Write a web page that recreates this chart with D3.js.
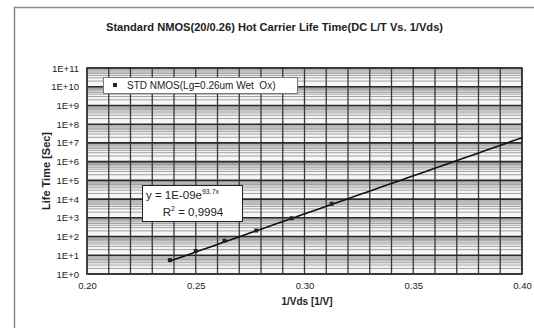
<!DOCTYPE html>
<html>
<head>
<meta charset="utf-8">
<script src="https://cdn.jsdelivr.net/npm/d3@7/dist/d3.min.js"></script>
<style>
  html, body { margin: 0; padding: 0; background: #fff; }
  svg { display: block; }
  text { font-family: "Liberation Sans", Arial, sans-serif; fill: #222; white-space: pre; }
</style>
</head>
<body>
<svg id="chart" width="534" height="328"></svg>
<script>
// Measured hot-carrier lifetime vs. inverse drain voltage
const invVds   = [0.2381, 0.2500, 0.2632, 0.2778, 0.2941, 0.3125];
const lifeTime = [5.5, 17, 60, 210, 950, 5600];

// Exponential trendline y = A * e^(k x)
const fitA = 1e-9;
const fitK = 93.7;
const fitRange = [0.2381, 0.40];
const fitR2Label = "0,9994";

const xTickValues = [0.20, 0.25, 0.30, 0.35, 0.40];
const xTickLabels = ["0.20", "0.25", "0.30", "0.35", "0.40"];
const yTickValues = [1e0, 1e1, 1e2, 1e3, 1e4, 1e5, 1e6, 1e7, 1e8, 1e9, 1e10, 1e11];
const yTickLabels = ["1E+0", "1E+1", "1E+2", "1E+3", "1E+4", "1E+5", "1E+6", "1E+7", "1E+8", "1E+9", "1E+10", "1E+11"];

const titleText = "Standard NMOS(20/0.26) Hot Carrier Life Time(DC L/T Vs. 1/Vds)";
const seriesName = "STD NMOS(Lg=0.26um Wet\u00A0 Ox)";

const svg = d3.select("#chart");
const plot = { left: 87, right: 522, top: 68, bottom: 274 };

const x = d3.scaleLinear().domain([0.20, 0.40]).range([plot.left, plot.right]);
const y = d3.scaleLog().domain([1, 1e11]).range([plot.bottom, plot.top]);

// outer chart frame
svg.append("path")
  .attr("d", `M14.5,328 V7.5 H534`)
  .attr("fill", "none").attr("stroke", "#8a8a8a").attr("stroke-width", 1.5);

// title
svg.append("text")
  .attr("x", 274.5).attr("y", 31)
  .attr("text-anchor", "middle")
  .attr("font-size", 10).attr("font-weight", "bold")
  .attr("textLength", 337).attr("lengthAdjust", "spacingAndGlyphs")
  .text(titleText);

// plot background
svg.append("rect")
  .attr("x", plot.left).attr("y", plot.top)
  .attr("width", plot.right - plot.left).attr("height", plot.bottom - plot.top)
  .attr("fill", "#f6f6f6");

const grid = svg.append("g");

// minor horizontal grid (2..9 in each decade)
const minorY = [];
for (let n = 0; n < 11; n++) for (let m = 2; m <= 9; m++) minorY.push(m * Math.pow(10, n));
grid.selectAll("line.minorY").data(minorY).join("line")
  .attr("class", "minorY")
  .attr("x1", plot.left).attr("x2", plot.right)
  .attr("y1", d => y(d)).attr("y2", d => y(d))
  .attr("stroke", "#a0a0a0").attr("stroke-width", 1);

// vertical grid every 0.01
const vLines = d3.range(0, 21).map(i => 0.20 + i * 0.01);
grid.selectAll("line.v").data(vLines).join("line")
  .attr("class", "v")
  .attr("x1", d => x(d)).attr("x2", d => x(d))
  .attr("y1", plot.top).attr("y2", plot.bottom)
  .attr("stroke", "#3a3a3a").attr("stroke-width", 1.3);

// major horizontal grid (decades)
grid.selectAll("line.majorY").data(yTickValues).join("line")
  .attr("class", "majorY")
  .attr("x1", plot.left).attr("x2", plot.right)
  .attr("y1", d => y(d)).attr("y2", d => y(d))
  .attr("stroke", "#2a2a2a").attr("stroke-width", 1.6);

// plot border
svg.append("rect")
  .attr("x", plot.left).attr("y", plot.top)
  .attr("width", plot.right - plot.left).attr("height", plot.bottom - plot.top)
  .attr("fill", "none").attr("stroke", "#333").attr("stroke-width", 1.6);

// axes
const yAxis = svg.append("g")
  .attr("transform", `translate(${plot.left - 8},0)`)
  .call(d3.axisLeft(y).tickValues(yTickValues)
    .tickFormat((d, i) => yTickLabels[i]).tickSize(0).tickPadding(0));
yAxis.select(".domain").remove();
yAxis.selectAll("text").attr("font-size", 9.5).attr("fill", "#333")
  .style("font-family", '"Liberation Sans", Arial, sans-serif');

const xAxis = svg.append("g")
  .attr("transform", `translate(0,${plot.bottom + 8})`)
  .call(d3.axisBottom(x).tickValues(xTickValues)
    .tickFormat((d, i) => xTickLabels[i]).tickSize(0).tickPadding(0));
xAxis.select(".domain").remove();
xAxis.selectAll("text").attr("font-size", 9.5).attr("fill", "#333")
  .style("font-family", '"Liberation Sans", Arial, sans-serif');

// axis titles
svg.append("text")
  .attr("x", 307).attr("y", 305)
  .attr("text-anchor", "middle")
  .attr("font-size", 10).attr("font-weight", "bold")
  .text("1/Vds [1/V]");

svg.append("text")
  .attr("transform", `translate(50,${(plot.top + plot.bottom) / 2}) rotate(-90)`)
  .attr("text-anchor", "middle")
  .attr("font-size", 11).attr("font-weight", "bold")
  .text("Life Time [Sec]");

// trendline
const trend = d3.range(0, 41).map(i => {
  const xv = fitRange[0] + (fitRange[1] - fitRange[0]) * i / 40;
  return [xv, fitA * Math.exp(fitK * xv)];
});
svg.append("path")
  .datum(trend)
  .attr("d", d3.line().x(d => x(d[0])).y(d => y(d[1])))
  .attr("fill", "none").attr("stroke", "#111").attr("stroke-width", 1.6);

// data markers
svg.selectAll("rect.pt").data(invVds).join("rect")
  .attr("class", "pt")
  .attr("x", d => x(d) - 2).attr("y", (d, i) => y(lifeTime[i]) - 2)
  .attr("width", 4).attr("height", 4)
  .attr("fill", "#222");

// legend
const lg = svg.append("g");
lg.append("rect")
  .attr("x", 103.5).attr("y", 77.5).attr("width", 194).attr("height", 16)
  .attr("fill", "#fff").attr("stroke", "#777").attr("stroke-width", 1);
lg.append("rect")
  .attr("x", 113).attr("y", 83).attr("width", 4).attr("height", 4).attr("fill", "#222");
lg.append("text")
  .attr("x", 127).attr("y", 89)
  .attr("font-size", 10)
  .text(seriesName);

// trendline equation box
const eq = svg.append("g");
eq.append("rect")
  .attr("x", 142.5).attr("y", 185.5).attr("width", 100).attr("height", 36)
  .attr("fill", "#fff").attr("stroke", "#222").attr("stroke-width", 1);
const t1 = eq.append("text").attr("x", 146).attr("y", 199).attr("font-size", 11.5);
t1.append("tspan").text(`y = ${d3.format(".0e")(fitA).replace("e-", "E-0")}e`);
t1.append("tspan").attr("font-size", 7).attr("dy", -5).text(`${fitK}x`);
const t2 = eq.append("text").attr("x", 193).attr("y", 216).attr("font-size", 11.5)
  .attr("text-anchor", "middle");
t2.append("tspan").text("R");
t2.append("tspan").attr("font-size", 7).attr("dy", -5).text("2");
t2.append("tspan").attr("dy", 5).text(` = ${fitR2Label}`);
</script>
</body>
</html>
